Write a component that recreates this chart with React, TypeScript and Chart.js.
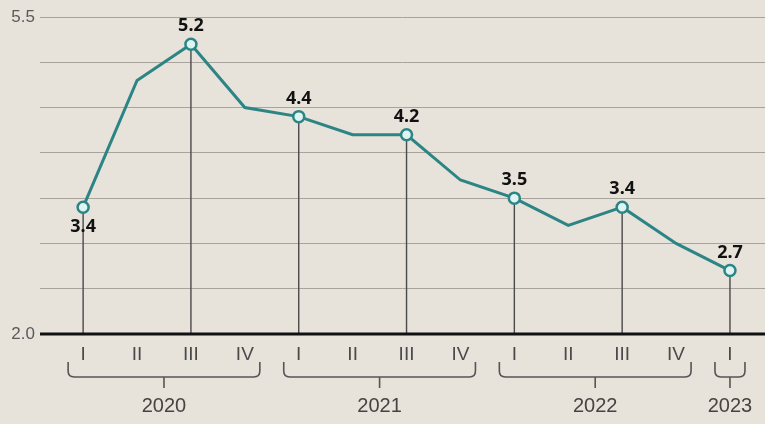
import { useEffect, useRef } from 'react';
import { Chart, registerables } from 'chart.js';

Chart.register(...registerables);

const quarterLabels = ['I', 'II', 'III', 'IV', 'I', 'II', 'III', 'IV', 'I', 'II', 'III', 'IV', 'I'];
const values = [3.4, 4.8, 5.2, 4.5, 4.4, 4.2, 4.2, 3.7, 3.5, 3.2, 3.4, 3.0, 2.7];
const labeledIdx = [0, 2, 4, 6, 8, 10, 12];
const labelBelowIdx = [0];
const years = ['2020', '2021', '2022', '2023'];
const yearFirst = [0, 4, 8, 12];
const yearLast = [3, 7, 11, 12];
const yTickLabels = [2.0, 5.5];

const BG = '#e7e2da';
const TEAL = '#2b8585';

const overlay = {
  id: 'overlay',
  beforeDatasetsDraw(chart: any) {
    const ctx = chart.ctx;
    const meta = chart.getDatasetMeta(0);
    const yb = chart.scales.y.getPixelForValue(2);
    ctx.save();
    ctx.strokeStyle = '#4a4a4a';
    ctx.lineWidth = 1.4;
    labeledIdx.forEach((i) => {
      const p = meta.data[i];
      ctx.beginPath();
      ctx.moveTo(p.x, p.y);
      ctx.lineTo(p.x, yb);
      ctx.stroke();
    });
    ctx.strokeStyle = '#111';
    ctx.lineWidth = 3;
    ctx.beginPath();
    ctx.moveTo(chart.chartArea.left, yb);
    ctx.lineTo(chart.chartArea.right, yb);
    ctx.stroke();
    ctx.restore();
  },
  afterDatasetsDraw(chart: any) {
    const ctx = chart.ctx;
    const meta = chart.getDatasetMeta(0);
    const xs = chart.scales.x;
    const yb = chart.scales.y.getPixelForValue(2);
    ctx.save();
    ctx.fillStyle = '#111';
    ctx.font = 'bold 18px "Noto Sans", "DejaVu Sans", sans-serif';
    ctx.textAlign = 'center';
    ctx.textBaseline = 'middle';
    labeledIdx.forEach((i) => {
      const p = meta.data[i];
      const below = labelBelowIdx.includes(i);
      ctx.fillText(values[i].toFixed(1), p.x, below ? p.y + 20 : p.y - 18);
    });
    const top = yb + 28;
    const bottom = yb + 43;
    const r = 6;
    ctx.strokeStyle = '#555';
    ctx.lineWidth = 1.6;
    years.forEach((yr, k) => {
      const x0 = xs.getPixelForValue(yearFirst[k]) - 15;
      const x1 = xs.getPixelForValue(yearLast[k]) + 15;
      const cx = (x0 + x1) / 2;
      ctx.beginPath();
      ctx.moveTo(x0, top);
      ctx.lineTo(x0, bottom - r);
      ctx.quadraticCurveTo(x0, bottom, x0 + r, bottom);
      ctx.lineTo(x1 - r, bottom);
      ctx.quadraticCurveTo(x1, bottom, x1, bottom - r);
      ctx.lineTo(x1, top);
      ctx.stroke();
      ctx.beginPath();
      ctx.moveTo(cx, bottom);
      ctx.lineTo(cx, bottom + 11);
      ctx.stroke();
      ctx.fillStyle = '#444';
      ctx.font = '20px "Liberation Sans Narrow", "Liberation Sans", sans-serif';
      ctx.textBaseline = 'middle';
      ctx.fillText(yr, cx, yb + 72);
    });
    ctx.restore();
  },
};

export default function App() {
  const ref = useRef<HTMLCanvasElement>(null);
  useEffect(() => {
    if (!ref.current) return;
    const chart = new Chart(ref.current, {
      type: 'line',
      data: {
        datasets: [
          {
            data: values.map((v, i) => ({ x: i, y: v })),
            borderColor: TEAL,
            borderWidth: 3,
            pointBorderWidth: 2.5,
            pointBackgroundColor: '#dff3f1',
            pointBorderColor: TEAL,
            pointRadius: values.map((_, i) => (labeledIdx.includes(i) ? 5.5 : 0)) as any,
            tension: 0,
            clip: false,
          } as any,
        ],
      },
      options: {
        animation: false,
        responsive: true,
        maintainAspectRatio: false,
        layout: { autoPadding: false, padding: { top: 17, right: 0, left: 0, bottom: 0 } },
        plugins: { legend: { display: false }, tooltip: { enabled: false } },
        scales: {
          x: {
            type: 'linear',
            min: -0.8,
            max: 12.65,
            afterBuildTicks: (s: any) => {
              s.ticks = quarterLabels.map((_, i) => ({ value: i }));
            },
            afterFit: (s: any) => {
              s.height = 90;
              s.paddingLeft = 0;
              s.paddingRight = 0;
            },
            grid: { display: false, drawTicks: false },
            border: { display: false },
            ticks: {
              padding: 9,
              autoSkip: false,
              maxRotation: 0,
              color: '#4a4a4a',
              font: { family: '"Liberation Sans Narrow", "Liberation Sans", sans-serif', size: 19 },
              callback: (v: any) => quarterLabels[v as number] ?? '',
            },
          },
          y: {
            min: 2,
            max: 5.5,
            afterFit: (s: any) => {
              s.width = 40;
            },
            grid: {
              drawTicks: false,
              color: (c: any) => (c.tick && c.tick.value === 2 ? 'rgba(0,0,0,0)' : '#a8a49d'),
              lineWidth: 1,
            },
            border: { display: false },
            ticks: {
              stepSize: 0.5,
              padding: 5,
              color: '#5a5a5a',
              font: { family: '"Liberation Sans Narrow", "Liberation Sans", sans-serif', size: 17 },
              callback: (v: any) => (yTickLabels.includes(Number(v)) ? Number(v).toFixed(1) : ''),
            },
          },
        },
      },
      plugins: [overlay],
    });
    return () => chart.destroy();
  }, []);
  return (
    <div style={{ position: 'absolute', left: 0, top: 0, width: 765, height: 424, background: BG }}>
      <canvas ref={ref} />
    </div>
  );
}
